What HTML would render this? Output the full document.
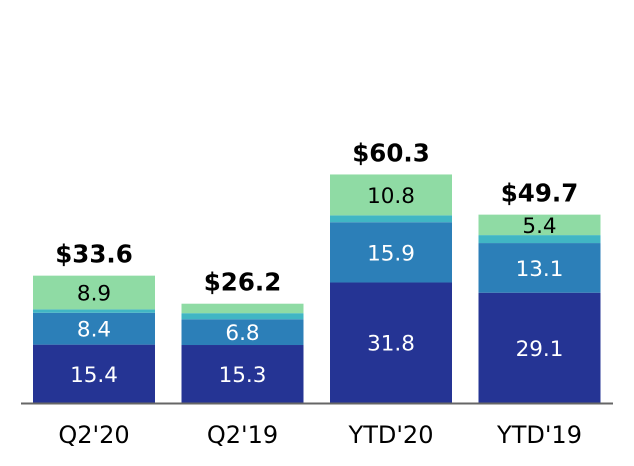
<!DOCTYPE html>
<html><head><meta charset="utf-8"><style>
html,body{margin:0;padding:0;background:#fff;}
svg{display:block;font-family:"DejaVu Sans","Liberation Sans",sans-serif;}
</style></head><body>
<svg id="chart" width="634" height="466"></svg>
<script>
const categories = ["Q2'20","Q2'19","YTD'20","YTD'19"];
const seriesA = [15.4,15.3,31.8,29.1];
const seriesB = [8.4,6.8,15.9,13.1];
const seriesC = [0.9,1.6,1.8,2.1];
const seriesD = [8.9,2.5,10.8,5.4];
const totals = ["$33.6","$26.2","$60.3","$49.7"];
const showLabelD = [true,false,true,true];

const NS="http://www.w3.org/2000/svg";
const svg=document.getElementById('chart');
const baseY=403, scale=3.79, x0=33, step=148.5, bw=122;
const yPos=v=>baseY-v*scale;
const xPos=i=>x0+i*step;
function mk(tag,attrs,parent){const e=document.createElementNS(NS,tag);for(const k in attrs)e.setAttribute(k,attrs[k]);(parent||svg).appendChild(e);return e;}
const series=[
 {vals:seriesA,color:"#253494",text:"#fff",name:"segment-a"},
 {vals:seriesB,color:"#2c7fb8",text:"#fff",name:"segment-b"},
 {vals:seriesC,color:"#41b6c4",text:null,name:"segment-c"},
 {vals:seriesD,color:"#8fdba4",text:"#000",name:"segment-d"}
];
categories.forEach((c,i)=>{
  let cum=0;
  const g=mk('g',{});
  
  
  series.forEach((s,si)=>{
    const v=s.vals[i];
    const r=mk('rect',{x:xPos(i),y:yPos(cum+v),width:bw,height:v*scale,fill:s.color},g);
    
    
    if(s.text && (si!==3 || showLabelD[i])){
      const t=mk('text',{x:xPos(i)+bw/2,y:yPos(cum+v/2)+8,'text-anchor':'middle','font-size':21.5,fill:s.text},g);
      t.textContent=v.toFixed(1);
      
      
    }
    cum+=v;
  });
  const tt=mk('text',{x:xPos(i)+bw/2,y:yPos(cum)-13,'text-anchor':'middle','font-size':24.5,'font-weight':'bold',fill:'#000'},g);
  tt.textContent=totals[i];
  
  
  const xl=mk('text',{x:xPos(i)+bw/2,y:443,'text-anchor':'middle','font-size':24,fill:'#000'},g);
  xl.textContent=c;
  
  
});
const ax=mk('line',{x1:21,x2:613,y1:baseY+0.5,y2:baseY+0.5,stroke:'#666','stroke-width':2});


</script>
</body></html>
